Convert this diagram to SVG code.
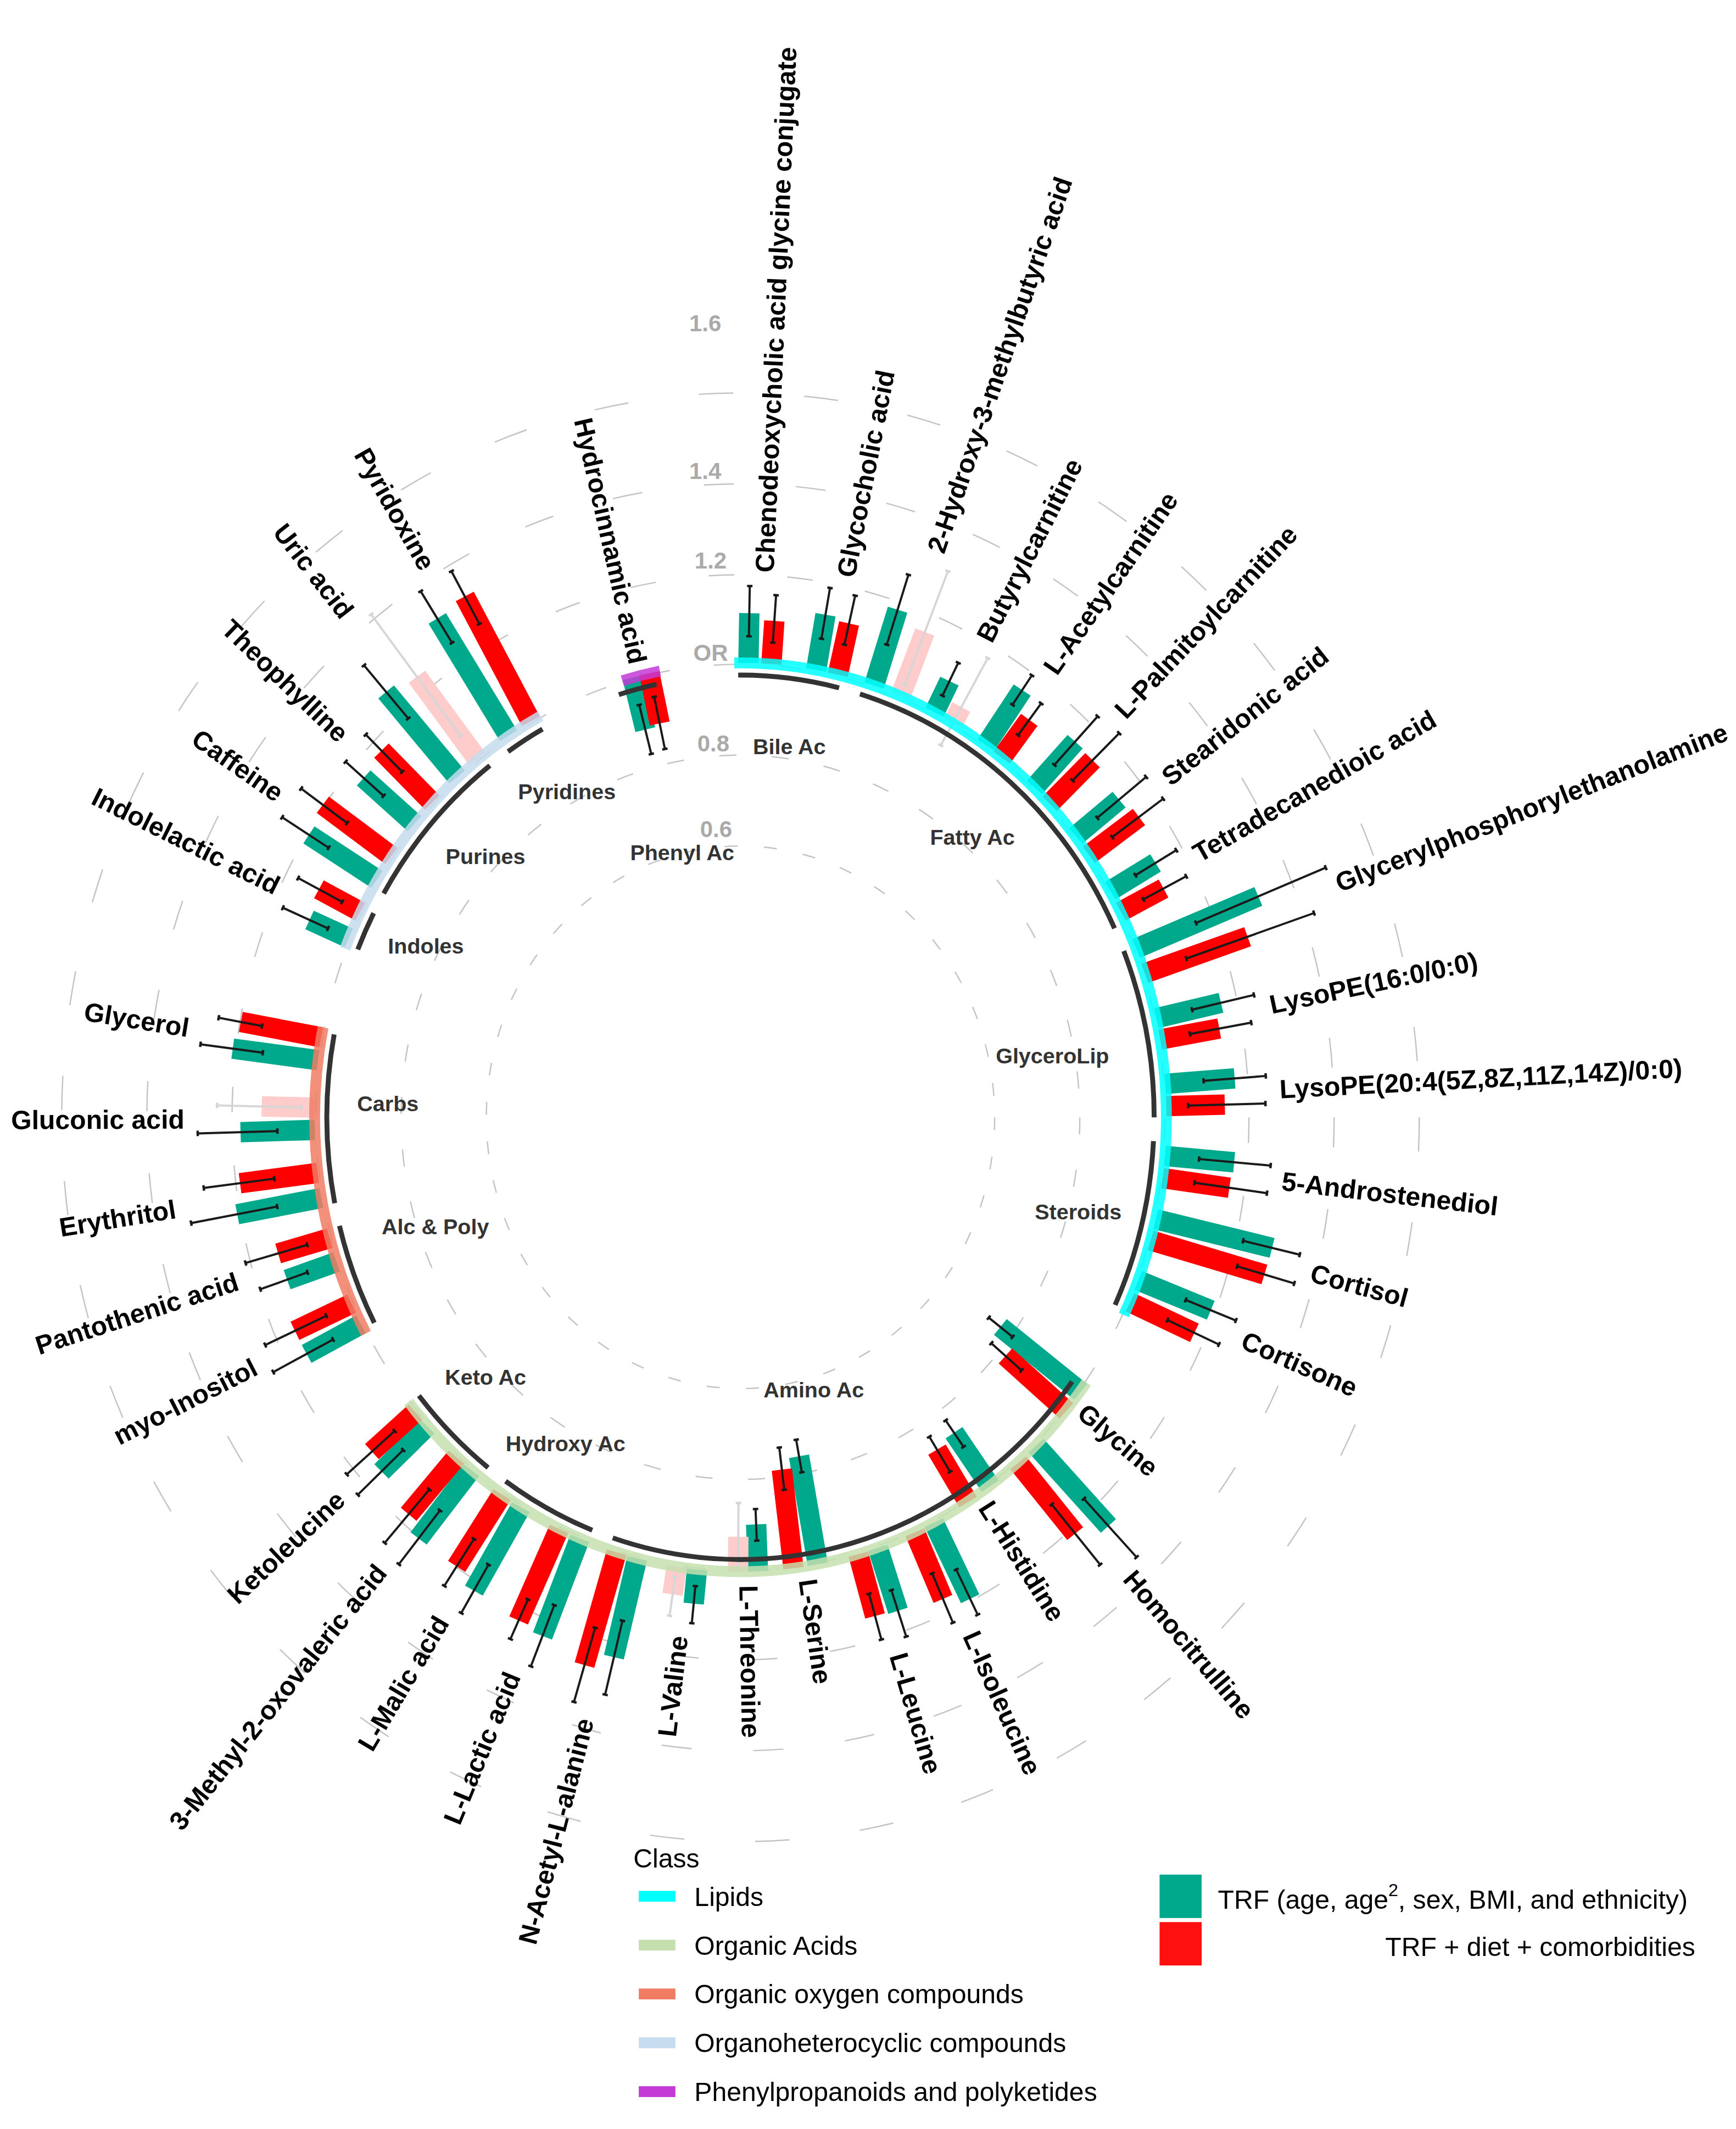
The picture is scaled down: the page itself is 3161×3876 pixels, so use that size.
<svg xmlns="http://www.w3.org/2000/svg" width="3161" height="3876" viewBox="0 0 3161 3876">
<style>
.ring{fill:none;stroke:#c4c4c4;stroke-width:1;stroke-dasharray:2.8 5.8}
.bg{stroke:#00A88C;stroke-width:15}
.br{stroke:#FF0000;stroke-width:15}
.bp{stroke:#FFCCCC;stroke-width:15}
.e{stroke:#1a1a1a;stroke-width:1.6;marker-start:url(#cap);marker-end:url(#cap)}
.ep{stroke:#d6d6d6;stroke-width:1.6;marker-start:url(#capp);marker-end:url(#capp)}
.band{fill:none;stroke-width:8;opacity:0.85}
.sub{fill:none;stroke:#333;stroke-width:3.6}
.lab{font-family:"Liberation Sans",Arial,sans-serif;font-weight:bold;font-size:19.5px;fill:#000;dominant-baseline:central}
.sl{font-family:"Liberation Sans",Arial,sans-serif;font-weight:bold;font-size:16px;fill:#333;text-anchor:middle}
.sc{font-family:"Liberation Sans",Arial,sans-serif;font-weight:bold;font-size:17px;fill:#aaa;text-anchor:middle}
.lg{font-family:"Liberation Sans",Arial,sans-serif;font-size:19.5px;fill:#000}
</style>
<defs>
<marker id="cap" markerUnits="userSpaceOnUse" viewBox="-5 -5 10 10" markerWidth="10" markerHeight="10" refX="0" refY="0" orient="auto"><path d="M0,-2V2" stroke="#1a1a1a" stroke-width="1.8"/></marker>
<marker id="capp" markerUnits="userSpaceOnUse" viewBox="-5 -5 10 10" markerWidth="10" markerHeight="10" refX="0" refY="0" orient="auto"><path d="M0,-2V2" stroke="#d6d6d6" stroke-width="1.8"/></marker>
</defs>
<rect width="3161" height="3876" fill="#fff"/>
<g transform="scale(2.4695)">
<g id="grid">
<ellipse class="ring" cx="546" cy="823.7" rx="187.4" ry="200" pathLength="360"/>
<ellipse class="ring" cx="546" cy="823.7" rx="250.2" ry="267" pathLength="360"/>
<ellipse class="ring" cx="546" cy="823.7" rx="313" ry="334" pathLength="360"/>
<ellipse class="ring" cx="546" cy="823.7" rx="374.9" ry="400" pathLength="360"/>
<ellipse class="ring" cx="546" cy="823.7" rx="437.7" ry="467" pathLength="360"/>
<ellipse class="ring" cx="546" cy="823.7" rx="500.5" ry="534" pathLength="360"/>
</g>
<g id="bars" transform="translate(546,823.7)">
<g id="m1"><g transform="rotate(1)"><line class="bg" y1="-335" y2="-371.7"/><line class="e" y1="-354.7" y2="-391.7"/></g><g transform="rotate(3.9)"><line class="br" y1="-334.9" y2="-366.8"/><line class="e" y1="-350.8" y2="-385.8"/></g><text class="lab" transform="rotate(-87.5)" x="402">Chenodeoxycholic acid glycine conjugate</text></g>
<g id="m2"><g transform="rotate(9.6)"><line class="bg" y1="-334.4" y2="-375.8"/><line class="e" y1="-357.8" y2="-395.8"/></g><g transform="rotate(12.4)"><line class="br" y1="-334" y2="-372.8"/><line class="e" y1="-356.8" y2="-393.8"/></g><text class="lab" transform="rotate(-79)" x="406">Glycocholic acid</text></g>
<g id="m3"><g transform="rotate(17.2)"><line class="bg" y1="-333.2" y2="-391.7"/><line class="e" y1="-364.7" y2="-418.7"/></g><g transform="rotate(20.8)"><line class="bp" y1="-332.4" y2="-382.7"/><line class="ep" y1="-340.7" y2="-430.7"/></g><text class="lab" transform="rotate(-71)" x="441">2-Hydroxy-3-methylbutyric acid</text></g>
<g id="m4"><g transform="rotate(25.6)"><line class="bg" y1="-331.1" y2="-356.6"/><line class="e" y1="-344.6" y2="-371.6"/></g><g transform="rotate(28.3)"><line class="bp" y1="-330.3" y2="-343.5"/><line class="ep" y1="-311.5" y2="-384.5"/></g><text class="lab" transform="rotate(-63)" x="395">Butyrylcarnitine</text></g>
<g id="m5"><g transform="rotate(33.4)"><line class="bg" y1="-328.6" y2="-377.3"/><line class="e" y1="-364.3" y2="-390.3"/></g><g transform="rotate(36)"><line class="br" y1="-327.7" y2="-362.2"/><line class="e" y1="-348.2" y2="-377.2"/></g><text class="lab" transform="rotate(-55.3)" x="400">L-Acetylcarnitine</text></g>
<g id="m6"><g transform="rotate(41.7)"><line class="bg" y1="-325.7" y2="-370.9"/><line class="e" y1="-347.9" y2="-395.9"/></g><g transform="rotate(44.6)"><line class="br" y1="-324.6" y2="-369.7"/><line class="e" y1="-348.7" y2="-397.7"/></g><text class="lab" transform="rotate(-46.8)" x="408">L-Palmitoylcarnitine</text></g>
<g id="m7"><g transform="rotate(50)"><line class="bg" y1="-322.7" y2="-364.4"/><line class="e" y1="-343.4" y2="-390.4"/></g><g transform="rotate(53)"><line class="br" y1="-321.6" y2="-367.9"/><line class="e" y1="-343.2" y2="-390.2"/></g><text class="lab" transform="rotate(-38.5)" x="400">Stearidonic acid</text></g>
<g id="m8"><g transform="rotate(58.5)"><line class="bg" y1="-319.7" y2="-358.9"/><line class="e" y1="-341.5" y2="-376.9"/></g><g transform="rotate(61.6)"><line class="br" y1="-318.7" y2="-354.6"/><line class="e" y1="-337.6" y2="-373.6"/></g><text class="lab" transform="rotate(-30)" x="387">Tetradecanedioic acid</text></g>
<g id="m9"><g transform="rotate(66.9)"><line class="bg" y1="-317.2" y2="-415.1"/><line class="e" y1="-365.1" y2="-469.1"/></g><g transform="rotate(70.4)"><line class="br" y1="-316.4" y2="-396.9"/><line class="e" y1="-348.9" y2="-448.9"/></g><text class="lab" transform="rotate(-21.4)" x="472" font-size="19">Glycerylphosphorylethanolamine</text></g>
<g id="m10"><g transform="rotate(76.6)"><line class="bg" y1="-315.1" y2="-364.2"/><line class="e" y1="-342.2" y2="-389.2"/></g><g transform="rotate(79.5)"><line class="br" y1="-314.7" y2="-359"/><line class="e" y1="-337" y2="-383"/></g><text class="lab" transform="rotate(-12)" x="399">LysoPE(16:0/0:0)</text></g>
<g id="m11"><g transform="rotate(85.5)"><line class="bg" y1="-314.1" y2="-365.5"/><line class="e" y1="-342.5" y2="-388.5"/></g><g transform="rotate(88.5)"><line class="br" y1="-314" y2="-357.2"/><line class="e" y1="-330.2" y2="-387.2"/></g><text class="lab" transform="rotate(-3)" x="398">LysoPE(20:4(5Z,8Z,11Z,14Z)/0:0)</text></g>
<g id="m12"><g transform="rotate(95.2)"><line class="bg" y1="-314.2" y2="-365.5"/><line class="e" y1="-339.5" y2="-392.5"/></g><g transform="rotate(98.2)"><line class="br" y1="-314.4" y2="-364.2"/><line class="e" y1="-338.2" y2="-392.2"/></g><text class="lab" transform="rotate(6.7)" x="402">5-Androstenediol</text></g>
<g id="m13"><g transform="rotate(103.8)"><line class="bg" y1="-315.2" y2="-403.6"/><line class="e" y1="-381.6" y2="-424.6"/></g><g transform="rotate(106.7)"><line class="br" y1="-315.7" y2="-403.3"/><line class="e" y1="-382.3" y2="-426.3"/></g><text class="lab" transform="rotate(15.2)" x="436">Cortisol</text></g>
<g id="m14"><g transform="rotate(112.3)"><line class="bg" y1="-317" y2="-374.8"/><line class="e" y1="-354.8" y2="-394.8"/></g><g transform="rotate(115.4)"><line class="br" y1="-317.9" y2="-370.5"/><line class="e" y1="-348.5" y2="-390.5"/></g><text class="lab" transform="rotate(23.8)" x="405">Cortisone</text></g>
<g id="m15"><g transform="rotate(128.9)"><line class="bg" y1="-322.3" y2="-246.2"/><line class="e" y1="-235.2" y2="-257.8"/></g><g transform="rotate(132)"><line class="br" y1="-323.4" y2="-262.9"/><line class="e" y1="-248.9" y2="-278.9"/></g><text class="lab" transform="rotate(40.5)" x="331">Glycine</text></g>
<g id="m16"><g transform="rotate(138)"><line class="bg" y1="-325.6" y2="-405.4"/><line class="e" y1="-378.4" y2="-436.4"/></g><g transform="rotate(141.2)"><line class="br" y1="-326.8" y2="-393.8"/><line class="e" y1="-366.2" y2="-423.2"/></g><text class="lab" transform="rotate(49.6)" x="442">Homocitrulline</text></g>
<g id="m17"><g transform="rotate(145.9)"><line class="bg" y1="-328.4" y2="-280.8"/><line class="e" y1="-269.8" y2="-293.4"/></g><g transform="rotate(149.4)"><line class="br" y1="-329.6" y2="-284.6"/><line class="e" y1="-273.6" y2="-303.6"/></g><text class="lab" transform="rotate(57.6)" x="337">L-Histidine</text></g>
<g id="m18"><g transform="rotate(154.5)"><line class="bg" y1="-331.1" y2="-393.3"/><line class="e" y1="-369.3" y2="-406.3"/></g><g transform="rotate(157.2)"><line class="br" y1="-331.9" y2="-385.2"/><line class="e" y1="-364.7" y2="-404.2"/></g><text class="lab" transform="rotate(65.9)" x="416">L-Isoleucine</text></g>
<g id="m19"><g transform="rotate(162.3)"><line class="bg" y1="-333.1" y2="-381.9"/><line class="e" y1="-365.9" y2="-401.9"/></g><g transform="rotate(164.9)"><line class="br" y1="-333.6" y2="-380.8"/><line class="e" y1="-363.8" y2="-398.8"/></g><text class="lab" transform="rotate(73.6)" x="412">L-Leucine</text></g>
<g id="m20"><g transform="rotate(170.2)"><line class="bg" y1="-334.4" y2="-253.6"/><line class="e" y1="-241.2" y2="-265.6"/></g><g transform="rotate(173.3)"><line class="br" y1="-334.7" y2="-261.5"/><line class="e" y1="-245.1" y2="-276.5"/></g><text class="lab" transform="rotate(81.7)" x="344">L-Serine</text></g>
<g id="m21"><g transform="rotate(177.8)"><line class="bg" y1="-335" y2="-300.3"/><line class="e" y1="-289" y2="-312.3"/></g><g transform="rotate(180.3)"><line class="bp" y1="-335" y2="-309.3"/><line class="ep" y1="-284.3" y2="-334.3"/></g><text class="lab" transform="rotate(89)" x="345">L-Threonine</text></g>
<g id="m22"><g transform="rotate(185.5)"><line class="bg" y1="-334.8" y2="-360.2"/><line class="e" y1="-347.2" y2="-374.7"/></g><g transform="rotate(188.1)"><line class="bp" y1="-334.6" y2="-355.2"/><line class="ep" y1="-342.2" y2="-371.2"/></g><text class="lab" transform="rotate(276.8)" x="-385" text-anchor="end">L-Valine</text></g>
<g id="m23"><g transform="rotate(193.2)"><line class="bg" y1="-333.9" y2="-408.8"/><line class="e" y1="-381.2" y2="-437.2"/></g><g transform="rotate(195.9)"><line class="br" y1="-333.4" y2="-419.9"/><line class="e" y1="-391.2" y2="-448.2"/></g><text class="lab" transform="rotate(284.5)" x="-458" text-anchor="end">N-Acetyl-L-alanine</text></g>
<g id="m24"><g transform="rotate(200.9)"><line class="bg" y1="-332.3" y2="-409.3"/><line class="e" y1="-384.9" y2="-433.3"/></g><g transform="rotate(203.8)"><line class="br" y1="-331.6" y2="-405.4"/><line class="e" y1="-388.4" y2="-420.4"/></g><text class="lab" transform="rotate(292.3)" x="-443" text-anchor="end">L-Lactic acid</text></g>
<g id="m25"><g transform="rotate(209.4)"><line class="bg" y1="-329.9" y2="-400.5"/><line class="e" y1="-378.5" y2="-419.5"/></g><g transform="rotate(212.3)"><line class="br" y1="-329" y2="-391.7"/><line class="e" y1="-367.7" y2="-408.7"/></g><text class="lab" transform="rotate(300.8)" x="-430" text-anchor="end">L-Malic acid</text></g>
<g id="m26"><g transform="rotate(217.4)"><line class="bg" y1="-327.2" y2="-390.8"/><line class="e" y1="-364.8" y2="-414.8"/></g><g transform="rotate(219.9)"><line class="br" y1="-326.4" y2="-381.5"/><line class="e" y1="-357.6" y2="-409"/></g><text class="lab" transform="rotate(308.6)" x="-425" text-anchor="end">3-Methyl-2-oxovaleric acid</text></g>
<g id="m27"><g transform="rotate(225.4)"><line class="bg" y1="-324.4" y2="-371.8"/><line class="e" y1="-349.3" y2="-396.3"/></g><g transform="rotate(227.8)"><line class="br" y1="-323.5" y2="-366.9"/><line class="e" y1="-344.2" y2="-391.9"/></g><text class="lab" transform="rotate(316.6)" x="-406" text-anchor="end">Ketoleucine</text></g>
<g id="m28"><g transform="rotate(241.4)"><line class="bg" y1="-318.8" y2="-364.4"/><line class="e" y1="-342.2" y2="-392.4"/></g><g transform="rotate(244.4)"><line class="br" y1="-317.9" y2="-364.3"/><line class="e" y1="-338.6" y2="-388.6"/></g><text class="lab" transform="rotate(332.9)" x="-402" text-anchor="end">myo-Inositol</text></g>
<g id="m29"><g transform="rotate(250.3)"><line class="bg" y1="-316.4" y2="-355.1"/><line class="e" y1="-339.1" y2="-376.1"/></g><g transform="rotate(253.6)"><line class="br" y1="-315.7" y2="-355.4"/><line class="e" y1="-333" y2="-380.4"/></g><text class="lab" transform="rotate(342)" x="-390" text-anchor="end">Pantothenic acid</text></g>
<g id="m30"><g transform="rotate(259.1)"><line class="bg" y1="-314.8" y2="-377.9"/><line class="e" y1="-347.9" y2="-412.5"/></g><g transform="rotate(262.5)"><line class="br" y1="-314.4" y2="-372.2"/><line class="e" y1="-346.7" y2="-399.2"/></g><text class="lab" transform="rotate(350.8)" x="-422" text-anchor="end">Erythritol</text></g>
<g id="m31"><g transform="rotate(268.3)"><line class="bg" y1="-314" y2="-368.8"/><line class="e" y1="-341.6" y2="-400.4"/></g><g transform="rotate(271.3)"><line class="bp" y1="-314" y2="-353.1"/><line class="ep" y1="-323.8" y2="-386.1"/></g><text class="lab" transform="rotate(359.8)" x="-410" text-anchor="end">Gluconic acid</text></g>
<g id="m32"><g transform="rotate(277.7)"><line class="bg" y1="-314.4" y2="-377.8"/><line class="e" y1="-355.4" y2="-401.8"/></g><g transform="rotate(280.8)"><line class="br" y1="-314.7" y2="-375.1"/><line class="e" y1="-359.1" y2="-391.7"/></g><text class="lab" transform="rotate(369.2)" x="-412" text-anchor="end">Glycerol</text></g>
<g id="m33"><g transform="rotate(294.6)"><line class="bg" y1="-317.6" y2="-349.5"/><line class="e" y1="-334.5" y2="-371.1"/></g><g transform="rotate(298.4)"><line class="br" y1="-318.7" y2="-353.4"/><line class="e" y1="-333.8" y2="-370.8"/></g><text class="lab" transform="rotate(386.5)" x="-381" text-anchor="end">Indolelactic acid</text></g>
<g id="m34"><g transform="rotate(303.2)"><line class="bg" y1="-320.3" y2="-380.3"/><line class="e" y1="-362.9" y2="-403.9"/></g><g transform="rotate(306.8)"><line class="br" y1="-321.5" y2="-384.6"/><line class="e" y1="-362.2" y2="-404.6"/></g><text class="lab" transform="rotate(395)" x="-414" text-anchor="end">Caffeine</text></g>
<g id="m35"><g transform="rotate(312)"><line class="bg" y1="-323.4" y2="-373.9"/><line class="e" y1="-354.1" y2="-391.8"/></g><g transform="rotate(315.6)"><line class="br" y1="-324.7" y2="-378.4"/><line class="e" y1="-356.4" y2="-394.9"/></g><text class="lab" transform="rotate(403.8)" x="-405" text-anchor="end">Theophylline</text></g>
<g id="m36"><g transform="rotate(320.2)"><line class="bg" y1="-326.4" y2="-408.2"/><line class="e" y1="-382.7" y2="-433.7"/></g><g transform="rotate(323.7)"><line class="bp" y1="-327.7" y2="-403"/><line class="ep" y1="-349" y2="-460"/></g><text class="lab" transform="rotate(412)" x="-470" text-anchor="end">Uric acid</text></g>
<g id="m37"><g transform="rotate(328.7)"><line class="bg" y1="-329.3" y2="-430.4"/><line class="e" y1="-409.4" y2="-453.9"/></g><g transform="rotate(332.1)"><line class="br" y1="-330.4" y2="-434.5"/><line class="e" y1="-411.5" y2="-455.5"/></g><text class="lab" transform="rotate(420.4)" x="-466" text-anchor="end">Pyridoxine</text></g>
<g id="m38"><g transform="rotate(346.2)"><line class="bg" y1="-333.8" y2="-294.3"/><line class="e" y1="-275.8" y2="-313.1"/></g><g transform="rotate(348.4)"><line class="br" y1="-334.2" y2="-296.4"/><line class="e" y1="-277.2" y2="-316.4"/></g><text class="lab" transform="rotate(437.3)" x="-343" text-anchor="end">Hydrocinnamic acid</text></g>
</g>
<g id="class-bands">
<path class="band" stroke="#00FFFF" d="M541.4,488.7 A314,335 0 0 1 828.7,969.5"/>
<path class="band" stroke="#C5DFAE" d="M801.0,1019.2 A314,335 0 0 1 301.3,1033.6"/>
<path class="band" stroke="#F07C64" d="M269.8,983.0 A314,335 0 0 1 238.2,757.5"/>
<path class="band" stroke="#C6DCEF" d="M254.5,699.3 A314,335 0 0 1 398.6,527.9"/>
<path class="band" stroke="#C43AD6" d="M458.9,501.8 A314,335 0 0 1 486.6,494.7"/>
</g>
<g id="subclass-arcs">
<path class="sub" d="M544.3,497.7 A305,326 0 0 1 618.7,507.1"/>
<path class="sub" d="M634.1,511.6 A305,326 0 0 1 821.8,684.4"/>
<path class="sub" d="M828.6,701.1 A305,326 0 0 1 851,823.7"/>
<path class="sub" d="M850.5,841.3 A305,326 0 0 1 822.2,962.0"/>
<path class="sub" d="M790.5,1018.5 A305,326 0 0 1 451.8,1133.8"/>
<path class="sub" d="M436.7,1128.1 A305,326 0 0 1 372.8,1092.0"/>
<path class="sub" d="M359.9,1082.0 A305,326 0 0 1 308.9,1028.9"/>
<path class="sub" d="M276.0,975.2 A305,326 0 0 1 250.3,903.7"/>
<path class="sub" d="M246.8,887.0 A305,326 0 0 1 246.4,762.6"/>
<path class="sub" d="M263.8,700.0 A305,326 0 0 1 275.5,673.2"/>
<path class="sub" d="M282.9,658.7 A305,326 0 0 1 361.2,564.4"/>
<path class="sub" d="M374.6,554.1 A305,326 0 0 1 400.0,537.5"/>
<path class="sub" d="M456.3,512.1 A305,326 0 0 1 484.1,504.5"/>
</g>
<g id="subclass-labels">
<text class="sl" x="582" y="556">Bile Ac</text>
<text class="sl" x="717" y="623">Fatty Ac</text>
<text class="sl" x="776" y="784">GlyceroLip</text>
<text class="sl" x="795" y="899">Steroids</text>
<text class="sl" x="600" y="1030">Amino Ac</text>
<text class="sl" x="417" y="1070">Hydroxy Ac</text>
<text class="sl" x="358" y="1021">Keto Ac</text>
<text class="sl" x="321" y="910">Alc &amp; Poly</text>
<text class="sl" x="286" y="819">Carbs</text>
<text class="sl" x="314" y="703">Indoles</text>
<text class="sl" x="358" y="637">Purines</text>
<text class="sl" x="418" y="589">Pyridines</text>
<text class="sl" x="503" y="634">Phenyl Ac</text>
</g>
<g id="scale-labels">
<text class="sc" x="520" y="244">1.6</text>
<text class="sc" x="520" y="353">1.4</text>
<text class="sc" x="524" y="419">1.2</text>
<text class="sc" x="524" y="487">OR</text>
<text class="sc" x="526" y="554">0.8</text>
<text class="sc" x="528" y="617">0.6</text>
</g>
<g id="legend-class">
<text class="lg" x="467" y="1377" font-size="21">Class</text>
<rect x="471" y="1394" width="27" height="8" fill="#00FFFF"/>
<text class="lg" x="512" y="1405">Lipids</text>
<rect x="471" y="1430" width="27" height="8" fill="#C5DFAE"/>
<text class="lg" x="512" y="1441">Organic Acids</text>
<rect x="471" y="1466" width="27" height="8" fill="#F07C64"/>
<text class="lg" x="512" y="1477">Organic oxygen compounds</text>
<rect x="471" y="1502" width="27" height="8" fill="#C6DCEF"/>
<text class="lg" x="512" y="1513">Organoheterocyclic compounds</text>
<rect x="471" y="1538" width="27" height="8" fill="#C43AD6"/>
<text class="lg" x="512" y="1549">Phenylpropanoids and polyketides</text>
</g>
<g id="legend-model">
<rect x="855" y="1382" width="31" height="32" fill="#00A88C"/>
<rect x="855" y="1417" width="31" height="32" fill="#FF1010"/>
<text class="lg" x="898" y="1407">TRF (age, age<tspan font-size="13" dy="-9">2</tspan><tspan dy="9">, sex, BMI, and ethnicity)</tspan></text>
<text class="lg" x="1250" y="1442" text-anchor="end">TRF + diet + comorbidities</text>
</g>
</g>
</svg>
